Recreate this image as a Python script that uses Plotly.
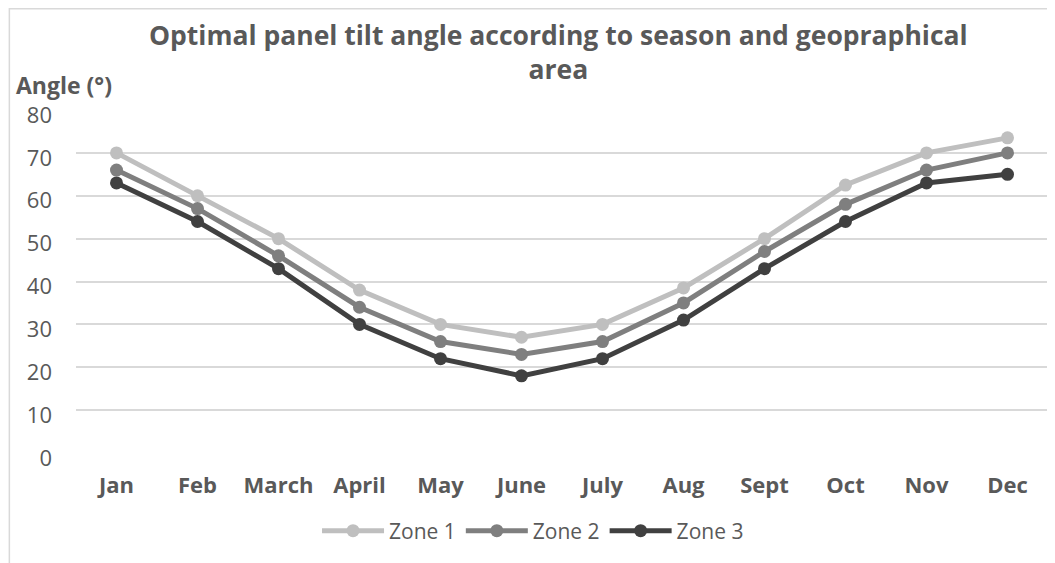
import plotly.graph_objects as go

months = ["Jan", "Feb", "March", "April", "May", "June", "July", "Aug", "Sept", "Oct", "Nov", "Dec"]
zone1 = [70, 60, 50, 38, 30, 27, 30, 38.5, 50, 62.5, 70, 73.5]
zone2 = [66, 57, 46, 34, 26, 23, 26, 35, 47, 58, 66, 70]
zone3 = [63, 54, 43, 30, 22, 18, 22, 31, 43, 54, 63, 65]
series_names = ["Zone 1", "Zone 2", "Zone 3"]
series_colors = ["#BFBFBF", "#7F7F7F", "#404040"]

OFF = 8  # page body margin
W, H = 1055 - OFF, 563 - OFF
# plot area in reference page pixels
PX0, PX1, PY0, PY1 = 75.5, 1048.5, 110, 453
L, R, T, B = PX0 - OFF, 1055 - PX1, PY0 - OFF, 563 - PY1
pw, ph = W - L - R, H - T - B

def px_x(p):
    return (p - PX0) / pw

def px_y(p):
    return (PY1 - p) / ph

font_family = "'Open Sans', sans-serif"
txt = "#595959"

fig = go.Figure()
for name, vals, col in zip(series_names, [zone1, zone2, zone3], series_colors):
    fig.add_trace(go.Scatter(
        x=months, y=vals, name=name, mode="lines+markers",
        line=dict(color=col, width=5),
        marker=dict(color=col, size=13),
    ))

fig.update_layout(
    width=W, height=H,
    margin=dict(l=L, r=R, t=T, b=B),
    paper_bgcolor="white", plot_bgcolor="white",
    font=dict(family=font_family, color=txt),
    showlegend=True,
    legend=dict(orientation="h", x=px_x(533), xanchor="center", y=px_y(531), yanchor="middle",
                font=dict(size=21, color=txt), itemwidth=62, traceorder="normal"),
    xaxis=dict(showgrid=False, showline=False, zeroline=False, ticks="",
               tickfont=dict(size=22, color=txt, family=font_family, weight="bold"),
               ticklabelstandoff=17, range=[-0.5, 11.5]),
    yaxis=dict(range=[0, 80], dtick=10, showgrid=True, gridcolor="#D9D9D9", gridwidth=1.5,
               zeroline=False, showline=False, ticks="",
               tickfont=dict(size=22, color=txt, family=font_family),
               ticklabelstandoff=23, ticklabelshift=5),
    annotations=[
        dict(text="<b>Optimal panel tilt angle according to season and geopraphical<br>area</b>",
             x=px_x(558), y=px_y(52), xref="paper", yref="paper", xanchor="center", yanchor="middle",
             showarrow=False, font=dict(size=26.5, color=txt, family=font_family), align="center"),
        dict(text="<b>Angle (°)</b>", x=px_x(13), y=px_y(85), xref="paper", yref="paper",
             xanchor="left", yanchor="middle", showarrow=False,
             font=dict(size=23, color=txt, family=font_family)),
    ],
    shapes=[
        dict(type="rect", xref="paper", yref="paper", x0=px_x(8.8), x1=px_x(1070), y0=px_y(580), y1=px_y(8.8),
             line=dict(color="#D9D9D9", width=1.5), fillcolor="rgba(0,0,0,0)", layer="below"),
    ],
)

fig.write_html("out.html")
